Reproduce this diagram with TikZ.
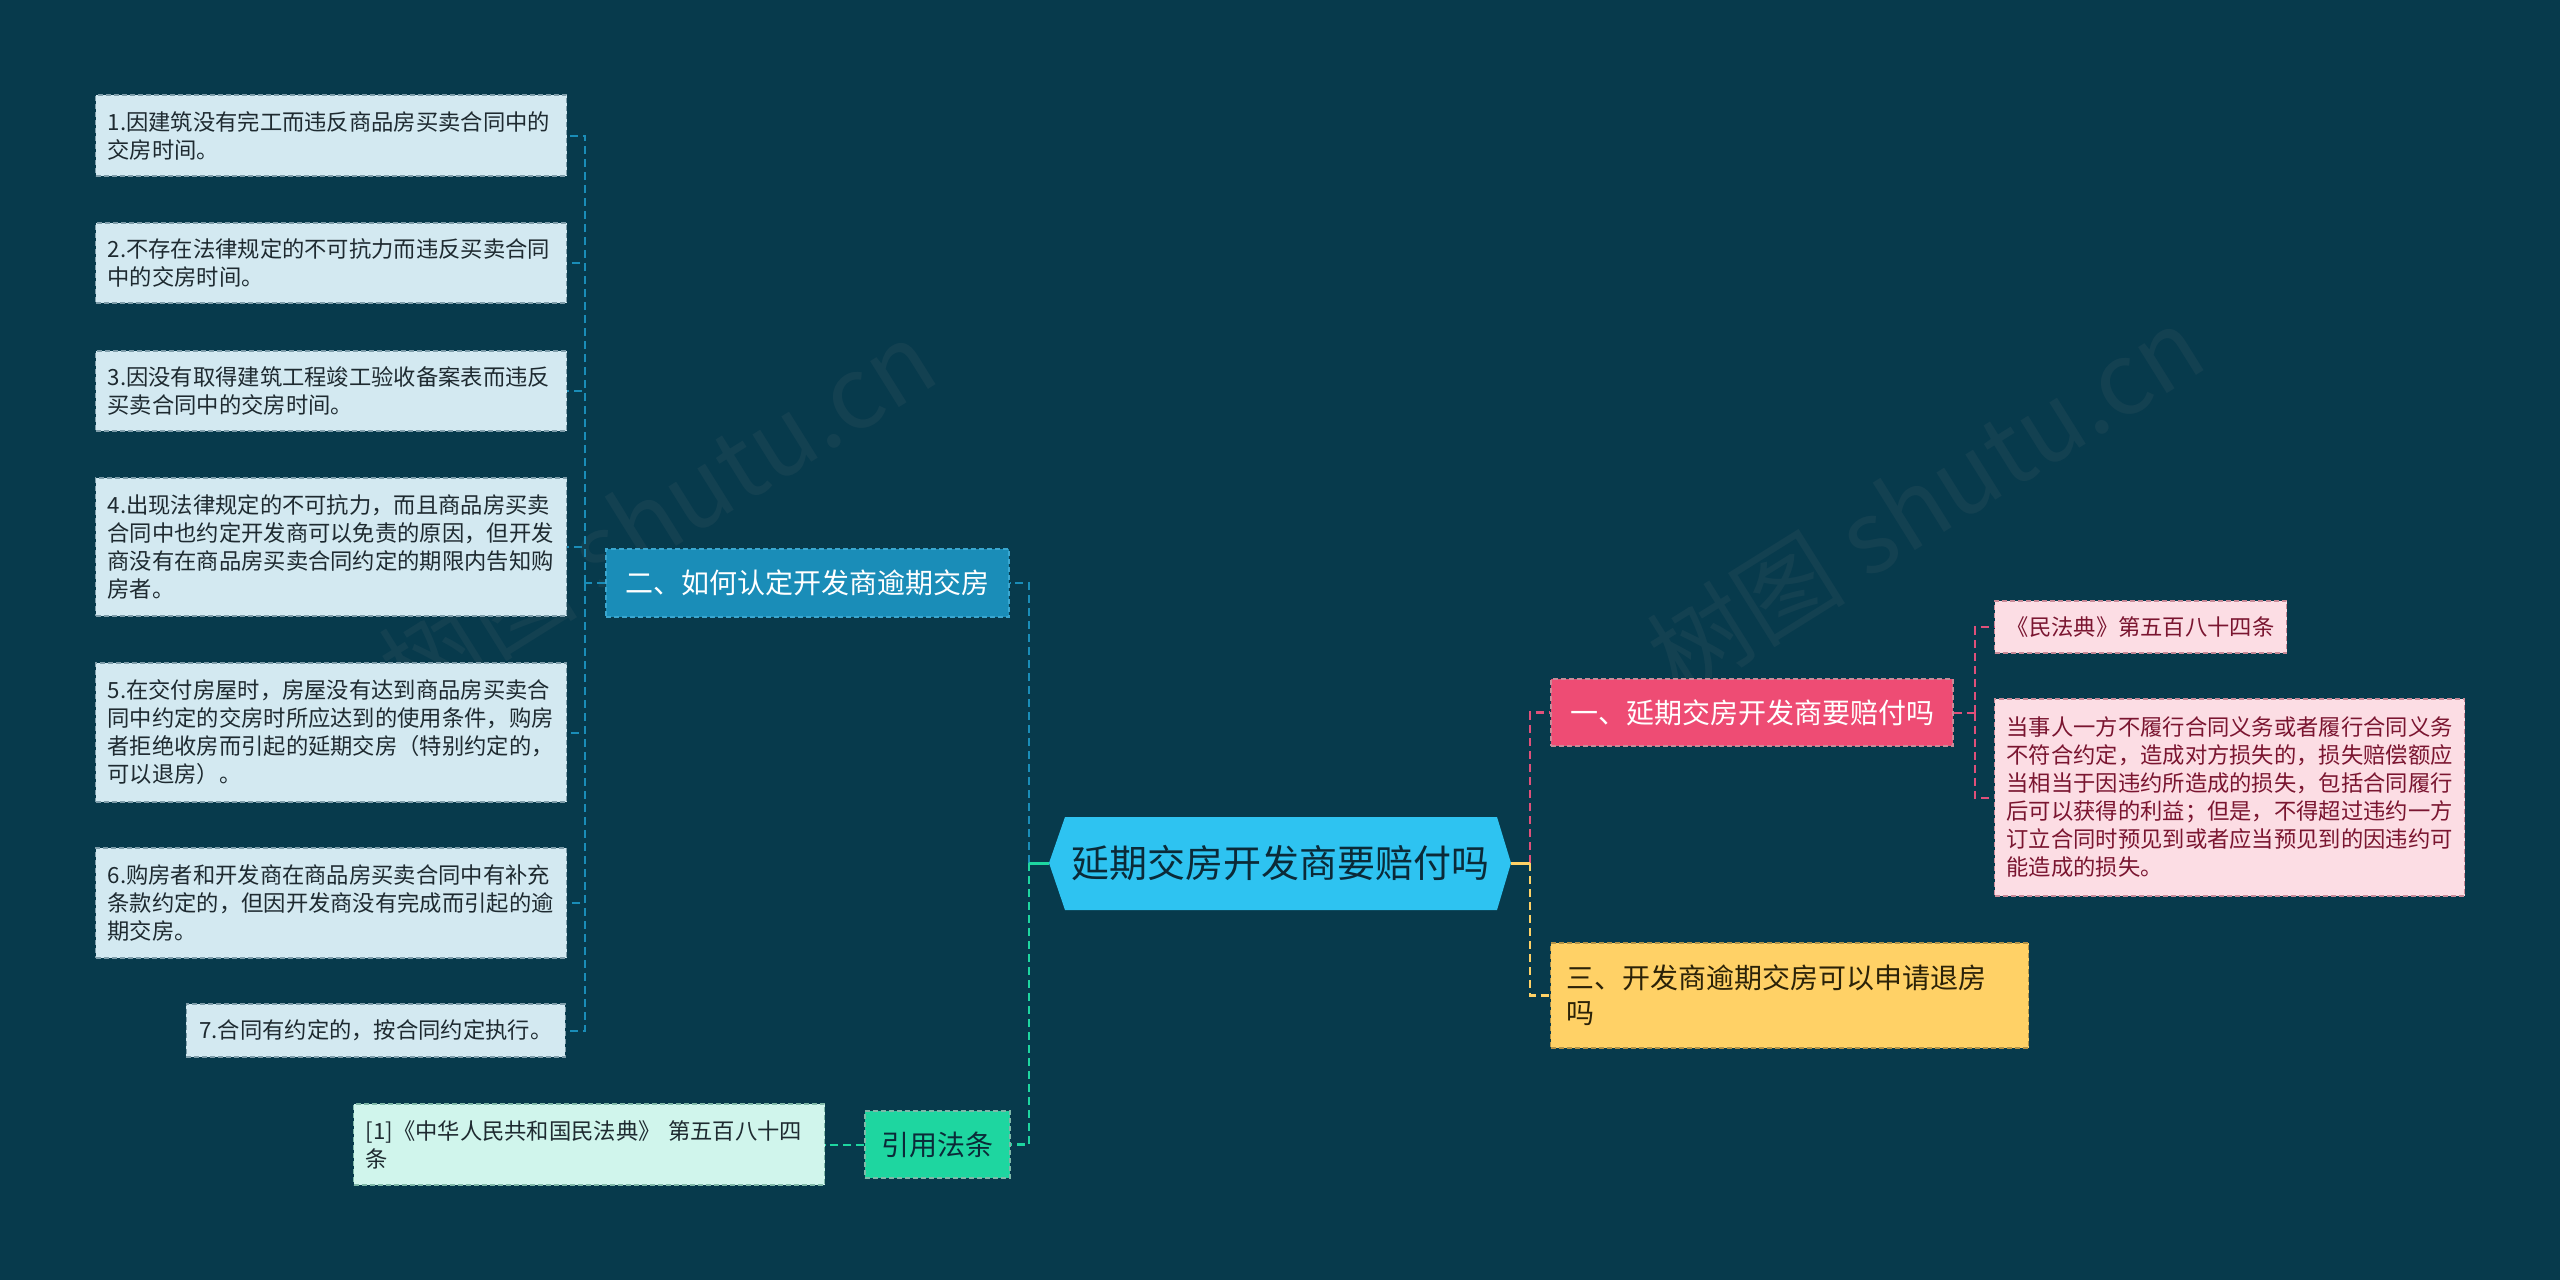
\documentclass[tikz,border=0pt]{standalone}
\usepackage{fontspec}
\setmainfont{Noto Sans CJK SC}
\definecolor{bg}{HTML}{073A4C}
\definecolor{hexfill}{HTML}{2EC3F1}
\definecolor{darktext}{HTML}{0B2A38}
\definecolor{bluec}{HTML}{1A8DB8}
\definecolor{blueb}{HTML}{3AA6CF}
\definecolor{itemfill}{HTML}{D3E9F1}
\definecolor{itemborder}{HTML}{7E9DAA}
\definecolor{itemtext}{HTML}{1E2A30}
\definecolor{pinkc}{HTML}{EE4C74}
\definecolor{pinkline}{HTML}{E0507A}
\definecolor{pinkfill}{HTML}{FCDDE4}
\definecolor{pinktext}{HTML}{7A1530}
\definecolor{pinkborder}{HTML}{C98A98}
\definecolor{yellowc}{HTML}{FFD166}
\definecolor{yellowtext}{HTML}{2B2208}
\definecolor{greenc}{HTML}{1ED6A0}
\definecolor{greenfill}{HTML}{D0F5EC}
\definecolor{greenborder}{HTML}{7FB8A8}
\tikzset{
  conn/.style={line width=2.5pt, dash pattern=on 8pt off 5pt},
  stub/.style={line width=3pt},
  boxbase/.style={dash pattern=on 5pt off 3pt, line width=1.3pt, inner ysep=0pt},
  item/.style={boxbase, draw=itemborder, fill=itemfill, text=itemtext,
    font=\fontsize{22.3}{28}\selectfont, align=left, inner xsep=12pt,
    text width=447pt, anchor=west},
  itemshort/.style={boxbase, draw=itemborder, fill=itemfill, text=itemtext,
    font=\fontsize{22.3}{28}\selectfont, inner xsep=13pt, anchor=east, minimum height=53pt},
  lvone/.style={boxbase, font=\fontsize{28}{35}\selectfont, inner xsep=0pt},
  wm/.style={text=gray, opacity=0.1, font=\fontsize{100}{100}\selectfont, rotate=32}
}
\begin{document}
\begin{tikzpicture}[x=1pt,y=-1pt]
\useasboundingbox (0,0) rectangle (2560,1280);
\fill[bg] (0,0) rectangle (2560,1280);

% watermarks (behind everything)
\node[wm] (wm1) at (657,514) {树图 shutu.cn};
\node[wm] (wm2) at (1925,500) {树图 shutu.cn};

% central hexagon
\fill[hexfill] (1049,863) -- (1065,817) -- (1497,817) -- (1511,863) -- (1497,910) -- (1065,910) -- cycle;
\node[text=darktext, font=\fontsize{38}{40}\selectfont] (hex) at (1280,863) {延期交房开发商要赔付吗};
\coordinate (hexL) at (1049,863);
\coordinate (hexR) at (1511,863);

% level one nodes
\node[lvone, draw=blueb, fill=bluec, text=white, minimum width=403pt, minimum height=68pt] (n2) at (807.5,583) {二、如何认定开发商逾期交房};
\node[lvone, draw=greenborder, fill=greenc, text=darktext, minimum width=145pt, minimum height=67pt] (law) at (937.5,1144.5) {引用法条};
\node[lvone, draw=pinkborder, fill=pinkc, text=white, minimum width=402pt, minimum height=67pt] (n1) at (1752,712.5) {一、延期交房开发商要赔付吗};
\node[lvone, draw=yellowc!70!black, fill=yellowc, text=yellowtext, minimum height=105pt, text width=446pt, inner xsep=16pt, align=left, anchor=west] (n3) at (1550,995.5) {三、开发商逾期交房可以申请退房\\吗};

% left items
\node[item, minimum height=81pt] (i1) at (95,135.5) {1.因建筑没有完工而违反商品房买卖合同中的\\交房时间。};
\node[item, minimum height=80pt] (i2) at (95,263) {2.不存在法律规定的不可抗力而违反买卖合同\\中的交房时间。};
\node[item, minimum height=80pt] (i3) at (95,391) {3.因没有取得建筑工程竣工验收备案表而违反\\买卖合同中的交房时间。};
\node[item, minimum height=138pt] (i4) at (95,547) {4.出现法律规定的不可抗力，而且商品房买卖\\合同中也约定开发商可以免责的原因，但开发\\商没有在商品房买卖合同约定的期限内告知购\\房者。};
\node[item, minimum height=139pt] (i5) at (95,732.5) {5.在交付房屋时，房屋没有达到商品房买卖合\\同中约定的交房时所应达到的使用条件，购房\\者拒绝收房而引起的延期交房（特别约定的，\\可以退房）。};
\node[item, minimum height=110pt] (i6) at (95,903) {6.购房者和开发商在商品房买卖合同中有补充\\条款约定的，但因开发商没有完成而引起的逾\\期交房。};
\node[itemshort] (i7) at (566,1030.5) {7.合同有约定的，按合同约定执行。};

% reference box
\node[item, draw=greenborder, fill=greenfill, minimum height=81pt] (ref) at (353,1144.5) {[1]《中华人民共和国民法典》 第五百八十四\\条};

% right children
\node[boxbase, draw=pinkborder, fill=pinkfill, text=pinktext, font=\fontsize{22.3}{28}\selectfont, inner xsep=12pt, minimum width=292pt, minimum height=52pt, anchor=west] (c1) at (1994,627) {《民法典》第五百八十四条};
\node[boxbase, draw=pinkborder, fill=pinkfill, text=pinktext, font=\fontsize{22.3}{28}\selectfont, inner xsep=12pt, text width=446pt, align=left, minimum height=197pt, anchor=west] (c2) at (1994,797.5) {当事人一方不履行合同义务或者履行合同义务\\不符合约定，造成对方损失的，损失赔偿额应\\当相当于因违约所造成的损失，包括合同履行\\后可以获得的利益；但是，不得超过违约一方\\订立合同时预见到或者应当预见到的因违约可\\能造成的损失。};

% connectors
\coordinate (busL) at (1029,863);
\coordinate (busR) at (1530,863);
\coordinate (bus2) at (585,583);
\coordinate (busP) at (1975,712.5);

\draw[conn, bluec] (busL) |- (n2.east);
\draw[conn, greenc] (busL) |- (law.east);
\draw[stub, greenc] (hexL) -- (busL);
\draw[conn, pinkline] (busR) |- (n1.west);
\draw[conn, yellowc] (busR) |- (n3.west);
\draw[stub, yellowc] (hexR) -- (busR);

\draw[conn, bluec] (n2.west) -- (bus2);
\foreach \k in {i1,i2,i3,i4,i5,i6,i7}{
  \draw[conn, bluec, line width=2pt] (bus2) |- (\k.east);
}
\draw[conn, pinkline, line width=2pt] (n1.east) -- (busP);
\draw[conn, pinkline, line width=2pt] (busP) |- (c1.west);
\draw[conn, pinkline, line width=2pt] (busP) |- (c2.west);
\draw[conn, greenc, line width=2pt] (law.west) -- (ref.east);
\end{tikzpicture}
\end{document}
